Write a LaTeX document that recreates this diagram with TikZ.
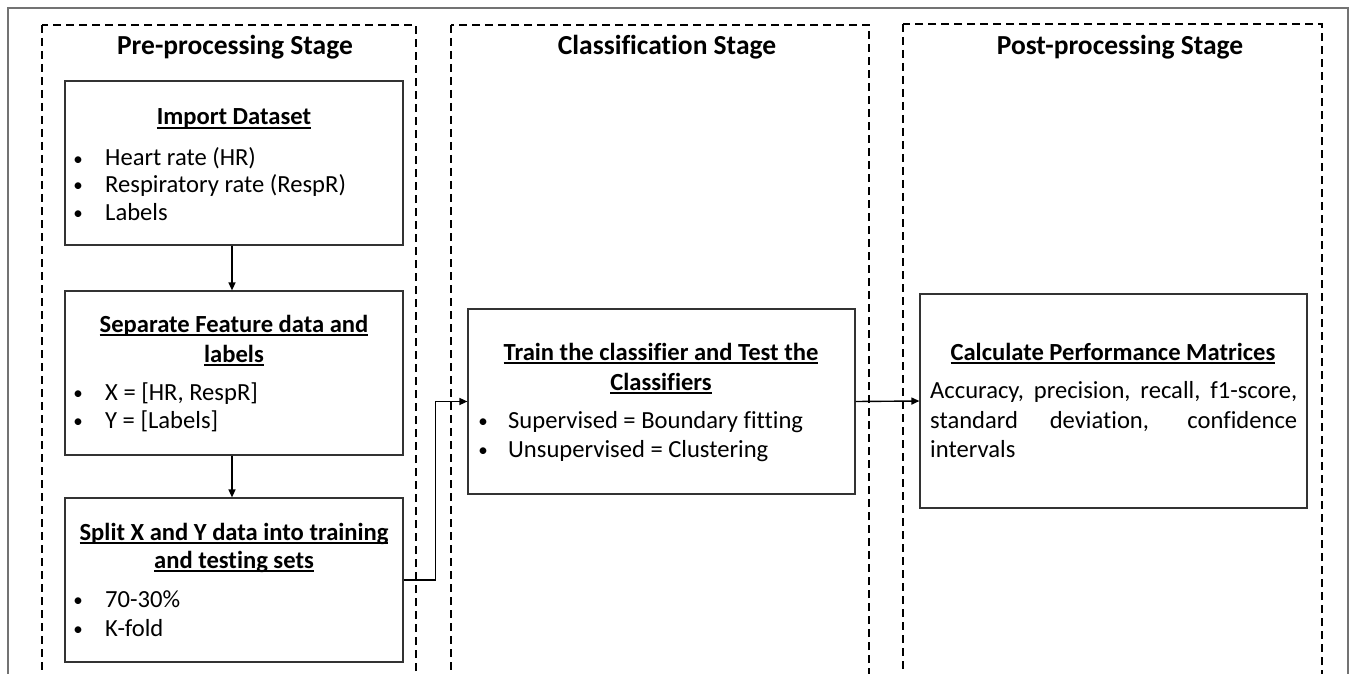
\documentclass[tikz,border=0pt]{standalone}
\usepackage{fontspec}
\setmainfont{Carlito}[Ligatures=NoCommon]
\usetikzlibrary{arrows.meta}
\newcommand\ulbox[1]{\setbox0\hbox{#1}\rlap{\rule[-4pt]{\wd0}{1.7pt}}\box0}
\tikzset{
  stagebox/.style={draw=black, line width=2pt, dash pattern=on 8pt off 5pt},
  procbox/.style={draw=black!80, line width=1.2pt, fill=white, inner sep=0pt},
  stagetitle/.style={font=\fontsize{27.5}{32}\selectfont\bfseries, anchor=base, inner sep=0pt},
  boxtitle/.style={font=\fontsize{24.6}{30}\selectfont\bfseries, anchor=base, inner sep=0pt},
  bodytext/.style={font=\fontsize{24.6}{30}\selectfont, anchor=base west, inner sep=0pt},
  bul/.style={font=\fontsize{19}{24}\selectfont, anchor=base, inner sep=0pt},
  conn/.style={draw=black, line width=1.4pt, -{Triangle[length=8pt,width=7pt]}},
}
\begin{document}
\begin{tikzpicture}[x=1pt,y=-1pt]
\useasboundingbox (0,0) rectangle (1358,674);
\clip (0,0) rectangle (1358,674);
\fill[white] (0,0) rectangle (1358,674);
\draw[black!55, line width=1.2pt] (8,8) rectangle (1348,720);
% stages
\draw[stagebox] (42,25) rectangle (416,720);
\draw[stagebox] (451,25) rectangle (869,720);
\draw[stagebox] (903,24) rectangle (1322,720);
\node[stagetitle] (t1) at (235,55) {Pre-processing Stage};
\node[stagetitle] (t2) at (667,55) {Classification Stage};
\node[stagetitle] (t3) at (1120,55) {Post-processing Stage};
% boxes
\node[procbox, minimum width=338pt, minimum height=164pt] (b1) at (234,163) {};
\node[procbox, minimum width=338pt, minimum height=164pt] (b2) at (234,373) {};
\node[procbox, minimum width=338pt, minimum height=164pt] (b3) at (234,580) {};
\node[procbox, minimum width=387pt, minimum height=185pt] (bm) at (661.5,401.5) {};
\node[procbox, minimum width=387pt, minimum height=214pt] (br) at (1113.5,401) {};
% box 1
\node[boxtitle] (b1t) at (234,125) {\ulbox{Import Dataset}};
\node[bul] (b1u1) at (78,165) {•};
\node[bodytext] (b1l1) at (105,166) {Heart rate (HR)};
\node[bul] (b1u2) at (78,192) {•};
\node[bodytext] (b1l2) at (105,193) {Respiratory rate (RespR)};
\node[bul] (b1u3) at (78,219) {•};
\node[bodytext] (b1l3) at (105,220) {Labels};
% box 2
\node[boxtitle] (b2t1) at (234,332) {\ulbox{Separate Feature data and}};
\node[boxtitle] (b2t2) at (234,362) {\ulbox{labels}};
\node[bul] (b2u1) at (78,399) {•};
\node[bodytext] (b2l1) at (105,400) {X = [HR, RespR]};
\node[bul] (b2u2) at (78,427) {•};
\node[bodytext] (b2l2) at (105,428) {Y = [Labels]};
% box 3
\node[boxtitle] (b3t1) at (234,540) {\ulbox{Split X and Y data into training}};
\node[boxtitle] (b3t2) at (234,568) {\ulbox{and testing sets}};
\node[bul] (b3u1) at (78,606) {•};
\node[bodytext] (b3l1) at (105,607) {70-30\%};
\node[bul] (b3u2) at (78,635) {•};
\node[bodytext] (b3l2) at (105,636) {K-fold};
% middle box
\node[boxtitle] (bmt1) at (661,360) {\ulbox{Train the classifier and Test the}};
\node[boxtitle] (bmt2) at (661,390) {\ulbox{Classifiers}};
\node[bul] (bmu1) at (483,427) {•};
\node[bodytext] (bml1) at (508,428) {Supervised = Boundary fitting};
\node[bul] (bmu2) at (483,456) {•};
\node[bodytext] (bml2) at (508,457) {Unsupervised = Clustering};
% right box
\node[boxtitle] (brt) at (1113,360) {\ulbox{Calculate Performance Matrices}};
\node[bodytext] (brl1) at (930,398) {\makebox[367pt][s]{Accuracy, precision, recall, f1-score,}};
\node[bodytext] (brl2) at (930,428) {\makebox[367pt][s]{standard deviation, confidence}};
\node[bodytext] (brl3) at (930,457) {intervals};
% connectors
\draw[conn] (b1.south -| 232,0) -- (b2.north -| 232,0);
\draw[conn] (b2.south -| 232,0) -- (b3.north -| 232,0);
\draw[conn] (b3.east) -- ++(32,0) |- (bm.west);
\draw[conn] (bm.east) -- (br.west);
\end{tikzpicture}
\end{document}
